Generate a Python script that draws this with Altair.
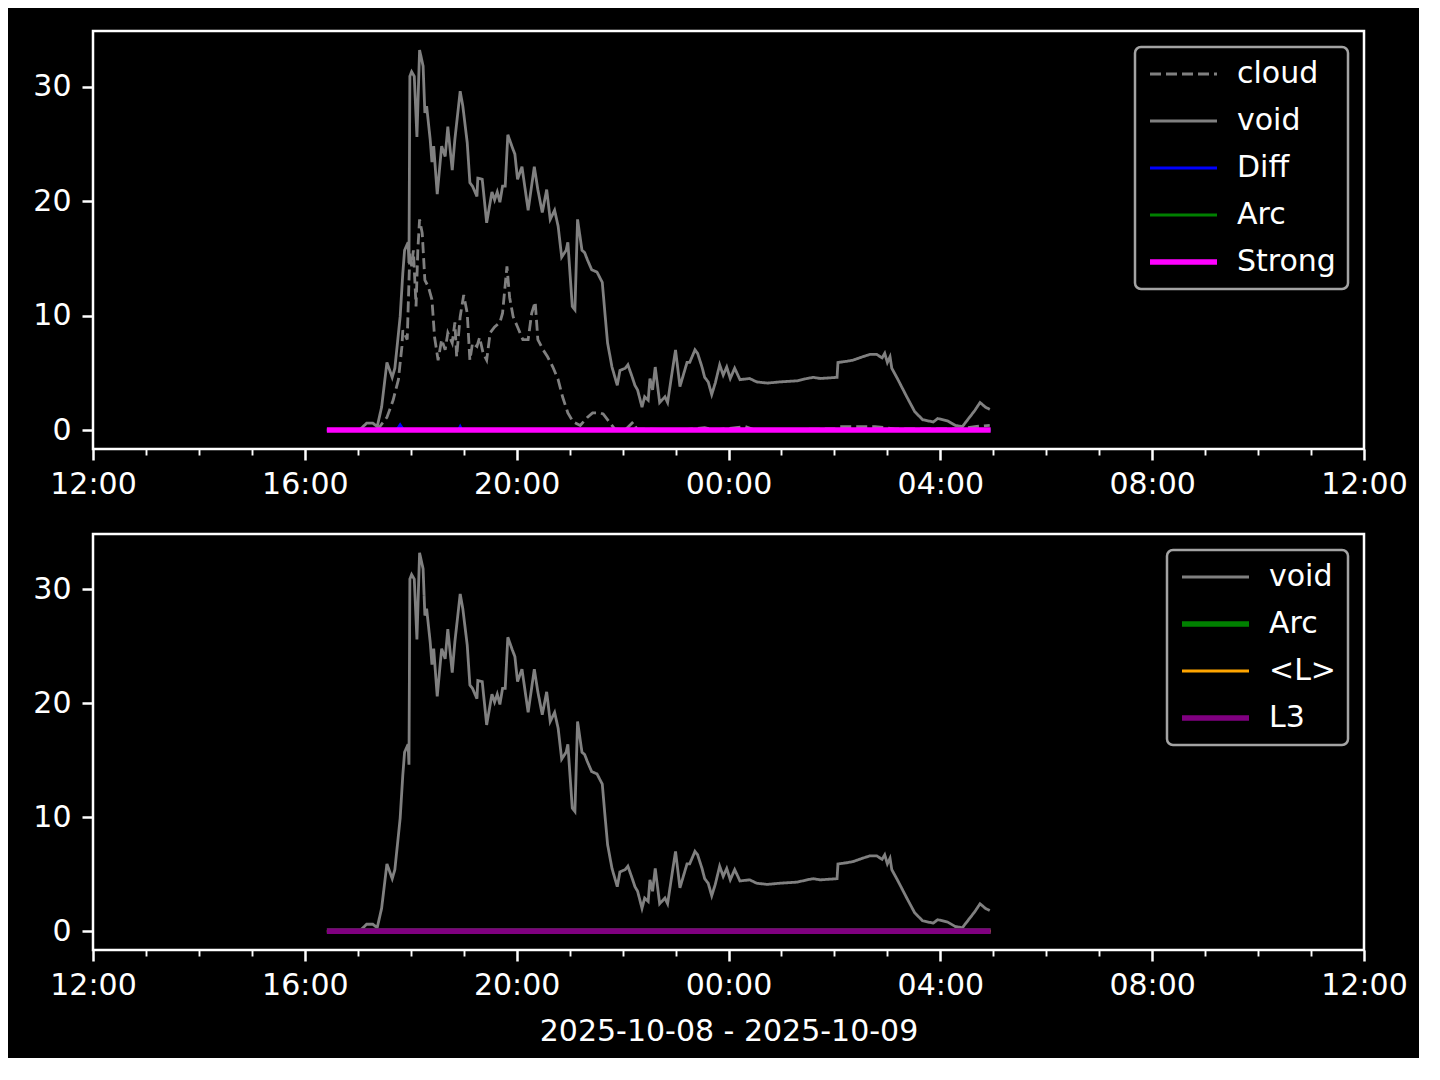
import altair as alt
import pandas as pd

# ---------------- data ----------------
void_pts = [("16:25",0),("17:02",0),("17:06",0.3),("17:10",0.6),("17:17",0.6),("17:22",0.3),("17:27",2.0),
    ("17:33",5.9),("17:39",4.6),("17:42",5.4),("17:48",9.9),("17:51",13.7),("17:53",15.7),("17:57",16.4),
    ("17:58",14.6),("17:59",30.9),("18:01",31.3),("18:04",30.9),("18:07",25.6),("18:10",33.2),("18:14",31.8),
    ("18:16",27.7),("18:18",28.3),("18:22",25.4),("18:24",23.4),("18:26",24.8),("18:30",20.6),("18:35",24.8),
    ("18:39",23.9),("18:42",26.5),("18:47",22.7),("18:50",25.4),("18:56",29.6),("18:59",28.3),("19:04",25.1),
    ("19:07",21.6),("19:10",21.3),("19:15",20.4),("19:16",22.0),("19:21",21.9),("19:26",18.1),("19:32",20.8),
    ("19:35",20.1),("19:38",20.8),("19:41",19.9),("19:44",21.3),("19:47",21.3),("19:50",25.8),("19:55",24.7),
    ("19:58",24.1),("20:01",21.9),("20:06",23.0),("20:13",19.2),("20:20",23.0),("20:24",21.0),("20:29",19.0),
    ("20:34",21.0),("20:38",18.4),("20:43",19.2),("20:47",17.8),("20:51",15.1),("20:56",15.7),("20:58",16.4),
    ("21:03",10.8),("21:06",10.5),("21:09",18.4),("21:14",15.7),("21:17",15.5),("21:20",14.9),("21:25",14.0),
    ("21:31",13.8),("21:37",12.9),("21:40",10.2),("21:43",7.6),("21:48",5.5),("21:54",3.9),("21:57",5.2),
    ("22:03",5.4),("22:06",5.7),("22:11",4.6),("22:14",3.9),("22:17",3.5),("22:22",2.0),("22:25",2.9),
    ("22:29",2.6),("22:31",4.5),("22:34",3.5),("22:37",5.5),("22:42",2.4),("22:48",2.9),("22:51",2.4),
    ("22:57",5.5),("23:00",7.0),("23:05",3.8),("23:13",5.9),("23:16",5.9),("23:22",7.0),("23:25",6.7),
    ("23:30",5.5),("23:33",4.6),("23:37",4.2),("23:41",3.1),("23:45",4.1),("23:50",5.7),("23:54",4.8),
    ("23:58",5.5),("00:02",4.5),("00:07",5.4),("00:13",4.4),("00:24",4.5),("00:32",4.2),("00:44",4.1),
    ("00:58",4.2),("01:18",4.3),("01:29",4.5),("01:36",4.6),("01:44",4.5),("02:03",4.6),("02:04",5.9),
    ("02:14",6.0),("02:21",6.1),("02:32",6.4),("02:40",6.6),("02:48",6.6),("02:54",6.3),("02:57",6.7),
    ("03:00",5.9),("03:03",6.4),("03:05",5.4),("03:12",4.4),("03:22",2.9),("03:31",1.6),("03:40",0.9),
    ("03:52",0.7),("03:57",1.0),("04:08",0.8),("04:17",0.4),("04:25",0.3),("04:31",0.9),("04:39",1.7),
    ("04:45",2.4),("04:51",2.0),("04:56",1.8)]

cloud_pts = [("16:25",0),("17:20",0),("17:25",0.3),("17:33",1.1),("17:40",2.6),("17:46",4.4),("17:50",7.3),
    ("17:51",8.7),("17:56",7.9),("17:57",10.5),("17:59",15.5),("18:01",14.3),("18:03",15.7),("18:06",10.8),
    ("18:08",15.7),("18:10",18.4),("18:13",17.2),("18:16",13.1),("18:20",12.5),("18:24",11.4),("18:27",8.1),
    ("18:31",6.1),("18:35",7.9),("18:39",7.0),("18:42",8.5),("18:47",7.6),("18:50",9.4),("18:52",6.4),
    ("18:56",9.9),("19:00",11.8),("19:04",10.2),("19:07",6.1),("19:10",7.6),("19:15",7.3),("19:18",8.1),
    ("19:22",6.7),("19:26",6.1),("19:30",8.5),("19:35",9.0),("19:41",9.4),("19:44",10.2),("19:49",14.3),
    ("19:52",11.6),("19:56",9.9),("20:01",9.0),("20:07",7.9),("20:13",7.9),("20:17",10.2),("20:21",11.2),
    ("20:24",7.9),("20:30",7.0),("20:35",6.4),("20:41",5.5),("20:47",4.4),("20:52",2.9),("20:58",1.5),
    ("21:04",0.7),("21:12",0.4),("21:20",1.1),("21:26",1.5),("21:34",1.5),("21:38",1.4),("21:46",0.6),
    ("21:51",0.1),("22:03",0),("22:12",0.7),("22:16",0.1),("23:05",0),("23:33",0.2),("23:45",0),
    ("00:19",0.3),("00:30",0),("02:01",0.1),("02:06",0.3),("02:29",0.3),("02:46",0.3),("03:09",0.1),
    ("04:22",0.1),("04:39",0.3),("04:56",0.4)]

diff_pts = [("16:25",0),("17:44",0),("17:48",0.45),("17:52",0),("18:54",0),("18:56",0.3),("18:58",0),("04:57",0)]
zero_pts = [("16:25",0),("04:57",0)]

top_order = ["cloud", "void", "Diff", "Arc", "Strong"]
top_colors = ["#808080", "#808080", "#0000ff", "#008000", "#ff00ff"]
top_dashes = [[11, 5], [1, 0], [1, 0], [1, 0], [1, 0]]
top_widths = [2.8, 2.8, 2.8, 2.8, 5.6]

bot_order = ["void", "Arc", "<L>", "L3"]
bot_colors = ["#808080", "#008000", "#ffa500", "#800080"]
bot_dashes = [[1, 0], [1, 0], [1, 0], [1, 0]]
bot_widths = [2.8, 5.6, 2.8, 5.6]

x_title = "2025-10-08 - 2025-10-09"
y_ticks = [0, 10, 20, 30]


def ts(hm):
    day = "2025-10-08" if int(hm[:2]) >= 12 else "2025-10-09"
    return f"{day}T{hm}:00"


def frame(series):
    rows = []
    for name, pts in series:
        for t, v in pts:
            rows.append({"t": ts(t), "v": v, "s": name})
    return pd.DataFrame(rows)


top_df = frame([("cloud", cloud_pts), ("void", void_pts), ("Diff", diff_pts),
                ("Arc", zero_pts), ("Strong", zero_pts)])
bot_df = frame([("void", void_pts), ("Arc", zero_pts), ("<L>", zero_pts), ("L3", zero_pts)])

hours = [alt.DateTime(year=2025, month=10, date=8 + (12 + h) // 24, hours=(12 + h) % 24) for h in range(25)]
x_scale = alt.Scale(domain=[hours[0], hours[-1]], nice=False)
y_scale = alt.Scale(domain=[-1.66, 34.86], nice=False, zero=False)

major = "hours(datum.value) % 4 === 0"


def panel(df, order, colors, dashes, widths, title, h):
    x_axis = alt.Axis(
        values=hours, title=title, grid=False, domain=False, labelFlush=False, labelOverlap=False,
        labelExpr=f"{major} ? timeFormat(datum.value, '%H:%M') : ''",
        tickSize={"condition": {"test": major, "value": 11}, "value": 6},
        tickWidth={"condition": {"test": major, "value": 2.5}, "value": 1.9},
        labelPadding=9,
    )
    y_axis = alt.Axis(values=y_ticks, title=None, grid=False, domain=False, tickSize=11,
                      tickWidth=2.5, labelPadding=11)
    leg = alt.Legend(title=None, orient="top-right")
    base = alt.Chart(df).mark_line(strokeCap="butt").encode(
        x=alt.X("t:T", scale=x_scale, axis=x_axis),
        y=alt.Y("v:Q", scale=y_scale, axis=y_axis),
        color=alt.Color("s:N", scale=alt.Scale(domain=order, range=colors), legend=leg),
        strokeDash=alt.StrokeDash("s:N", scale=alt.Scale(type="ordinal", domain=order, range=dashes),
                                  legend=leg),
        strokeWidth=alt.StrokeWidth("s:N", scale=alt.Scale(type="ordinal", domain=order, range=widths),
                                    legend=leg),
    )
    layers = [base.transform_filter(alt.datum.s == name) for name in order]
    return alt.layer(*layers).properties(width=1271, height=h)


top = panel(top_df, top_order, top_colors, top_dashes, top_widths, None, 418)
bot = panel(bot_df, bot_order, bot_colors, bot_dashes, bot_widths, x_title, 416)

chart = alt.vconcat(top, bot, spacing=85, bounds="flush").resolve_scale(
    color="independent", strokeDash="independent", strokeWidth="independent"
).configure(
    background="black", font="DejaVu Sans",
    padding={"left": 23, "top": 21, "right": 10, "bottom": 10},
).configure_view(
    stroke="white", strokeWidth=2.5
).configure_axis(
    labelColor="white", tickColor="white", labelFont="DejaVu Sans", labelFontSize=30,
    titleColor="white", titleFont="DejaVu Sans", titleFontSize=30, titleFontWeight="normal",
    titlePadding=16,
).configure_legend(
    fillColor="black", strokeColor="#a3a3a3", strokeWidth=2.5, cornerRadius=6, padding=12,
    labelColor="white", labelFont="DejaVu Sans", labelFontSize=30, symbolType="stroke",
    symbolSize=4489, clipHeight=30, rowPadding=17, labelOffset=17, offset=16,
)

chart.save("out.html", embed_options={"renderer": "svg", "actions": False})
